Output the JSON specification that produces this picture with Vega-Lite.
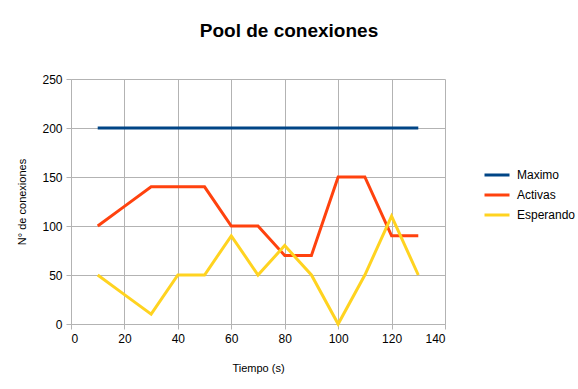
{
  "$schema": "https://vega.github.io/schema/vega-lite/v6.json",
  "width": 374,
  "height": 245,
  "autosize": "none",
  "padding": {"left": 71, "top": 79, "right": 133, "bottom": 65},
  "background": "white",
  "title": {"text": "Pool de conexiones", "font": "Liberation Sans", "fontSize": 19, "fontWeight": "bold", "color": "#000000", "anchor": "middle", "dx": 31, "offset": 32},
  "data": {"values": [
    {"t": 10, "serie": "Maximo", "v": 200},
    {"t": 20, "serie": "Maximo", "v": 200},
    {"t": 30, "serie": "Maximo", "v": 200},
    {"t": 40, "serie": "Maximo", "v": 200},
    {"t": 50, "serie": "Maximo", "v": 200},
    {"t": 60, "serie": "Maximo", "v": 200},
    {"t": 70, "serie": "Maximo", "v": 200},
    {"t": 80, "serie": "Maximo", "v": 200},
    {"t": 90, "serie": "Maximo", "v": 200},
    {"t": 100, "serie": "Maximo", "v": 200},
    {"t": 110, "serie": "Maximo", "v": 200},
    {"t": 120, "serie": "Maximo", "v": 200},
    {"t": 130, "serie": "Maximo", "v": 200},
    {"t": 10, "serie": "Activas", "v": 100},
    {"t": 20, "serie": "Activas", "v": 120},
    {"t": 30, "serie": "Activas", "v": 140},
    {"t": 40, "serie": "Activas", "v": 140},
    {"t": 50, "serie": "Activas", "v": 140},
    {"t": 60, "serie": "Activas", "v": 100},
    {"t": 70, "serie": "Activas", "v": 100},
    {"t": 80, "serie": "Activas", "v": 70},
    {"t": 90, "serie": "Activas", "v": 70},
    {"t": 100, "serie": "Activas", "v": 150},
    {"t": 110, "serie": "Activas", "v": 150},
    {"t": 120, "serie": "Activas", "v": 90},
    {"t": 130, "serie": "Activas", "v": 90},
    {"t": 10, "serie": "Esperando", "v": 50},
    {"t": 20, "serie": "Esperando", "v": 30},
    {"t": 30, "serie": "Esperando", "v": 10},
    {"t": 40, "serie": "Esperando", "v": 50},
    {"t": 50, "serie": "Esperando", "v": 50},
    {"t": 60, "serie": "Esperando", "v": 90},
    {"t": 70, "serie": "Esperando", "v": 50},
    {"t": 80, "serie": "Esperando", "v": 80},
    {"t": 90, "serie": "Esperando", "v": 50},
    {"t": 100, "serie": "Esperando", "v": 0},
    {"t": 110, "serie": "Esperando", "v": 50},
    {"t": 120, "serie": "Esperando", "v": 110},
    {"t": 130, "serie": "Esperando", "v": 50}
  ]},
  "mark": {"type": "line", "strokeWidth": 3, "strokeJoin": "miter"},
  "encoding": {
    "x": {"field": "t", "type": "quantitative", "title": "Tiempo (s)",
      "scale": {"domain": [0, 140], "nice": false},
      "axis": {"values": [0, 20, 40, 60, 80, 100, 120, 140], "grid": true, "gridColor": "#b3b3b3", "domainColor": "#b3b3b3", "tickColor": "#b3b3b3", "tickSize": 5, "labelFont": "Liberation Sans", "labelFontSize": 12, "labelColor": "#000000", "labelPadding": 4, "titleFont": "Liberation Sans", "titleFontSize": 11, "titleFontWeight": "normal", "titleColor": "#000000", "titlePadding": 18}},
    "y": {"field": "v", "type": "quantitative", "title": "N° de conexiones",
      "scale": {"domain": [0, 250], "nice": false},
      "axis": {"values": [0, 50, 100, 150, 200, 250], "grid": true, "gridColor": "#b3b3b3", "domainColor": "#b3b3b3", "tickColor": "#b3b3b3", "tickSize": 5, "labelFont": "Liberation Sans", "labelFontSize": 12, "labelColor": "#000000", "labelPadding": 4, "titleFont": "Liberation Sans", "titleFontSize": 11, "titleFontWeight": "normal", "titleColor": "#000000", "titlePadding": 14}},
    "color": {"field": "serie", "type": "nominal", "title": null,
      "sort": ["Maximo", "Activas", "Esperando"],
      "scale": {"domain": ["Maximo", "Activas", "Esperando"], "range": ["#004586", "#ff420e", "#ffd320"]},
      "legend": {"orient": "none", "legendX": 412, "legendY": 82, "symbolType": "stroke", "symbolSize": 625, "symbolStrokeWidth": 3, "labelFont": "Liberation Sans", "labelFontSize": 12, "labelColor": "#000000", "labelOffset": 6, "rowPadding": 0}}
  },
  "config": {"view": {"stroke": null}}
}
